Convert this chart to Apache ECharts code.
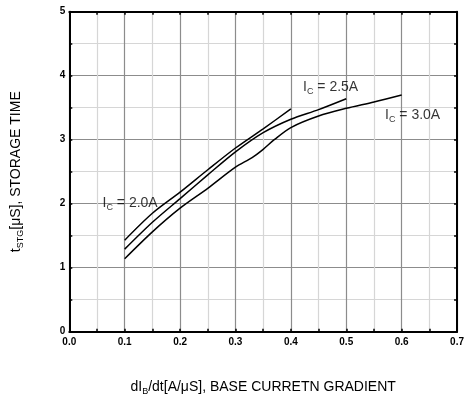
<!DOCTYPE html>
<html>
<head>
<meta charset="utf-8">
<script src="https://cdn.jsdelivr.net/npm/echarts@6/dist/echarts.min.js"></script>
<style>html,body{margin:0;padding:0;background:#fff;}#c{width:467px;height:401px;}</style>
</head>
<body>
<div id="c"></div>
<script>
var ic20X = [0.1, 0.15, 0.2, 0.25, 0.3, 0.35, 0.4];
var ic20Y = [1.43, 1.85, 2.18, 2.53, 2.87, 3.17, 3.48];
var ic25X = [0.1, 0.15, 0.2, 0.25, 0.3, 0.35, 0.4, 0.45, 0.5];
var ic25Y = [1.29, 1.71, 2.08, 2.45, 2.81, 3.11, 3.32, 3.47, 3.64];
var ic30X = [0.1, 0.15, 0.2, 0.25, 0.3, 0.33, 0.35, 0.37, 0.4, 0.45, 0.5, 0.55, 0.6];
var ic30Y = [1.14, 1.56, 1.93, 2.24, 2.57, 2.72, 2.85, 3.0, 3.19, 3.37, 3.49, 3.59, 3.70];
var xTicks = ['0.0','0.1','0.2','0.3','0.4','0.5','0.6','0.7'];
var yTicks = ['0','1','2','3','4','5'];
var labelNames = ['2.0A', '2.5A', '3.0A'];
var labelX = [0.06, 0.422, 0.570];
var labelY = [2.01, 3.82, 3.39];

function pairs(xs, ys){ return xs.map(function(v,i){return [v, ys[i]];}); }

var FONT = 'Liberation Sans, Arial, sans-serif';
var richLbl = {
  a:{fontSize:14, fontFamily:FONT, color:'#000'},
  b:{fontSize:9, fontFamily:FONT, color:'#000', verticalAlign:'bottom', padding:[0,0,-2,0]}
};

function mkSeries(xs, ys){
  return {
    type:'line', data:pairs(xs, ys), smooth:0.3, symbol:'none',
    lineStyle:{color:'#000', width:1.5}, silent:true
  };
}

var chart = echarts.init(document.getElementById('c'), null, {renderer:'canvas'});
var tickStyle = {show:true, inside:true, length:3, lineStyle:{color:'#000', width:1.5}};
var minorStyle = {show:true, splitNumber:2, length:3, lineStyle:{color:'#000', width:1.5}};
var subRich = {s:{fontSize:9, fontFamily:FONT, color:'#000', verticalAlign:'bottom', padding:[0,0,-2,0]}};
chart.setOption({
  animation:false,
  backgroundColor:'#fff',
  grid:{left:69.3, right:5.3, top:11.7, bottom:69.3, show:false},
  xAxis:[{
    type:'value', min:0, max:0.7, interval:0.1, position:'bottom',
    name:'dI{s|B}/dt[A/μS], BASE CURRETN GRADIENT', nameLocation:'middle', nameGap:48,
    nameTextStyle:{fontSize:14, fontFamily:FONT, color:'#000', rich:subRich},
    axisLine:{show:true, onZero:false, lineStyle:{color:'#000', width:2}},
    axisTick:tickStyle, minorTick:minorStyle,
    splitLine:{show:true, lineStyle:{color:'#8c8c8c', width:1.2}},
    minorSplitLine:{show:true, lineStyle:{color:'#d6d6d6', width:1.2}},
    axisLabel:{margin:6, fontSize:10, fontWeight:'bold', fontFamily:FONT, color:'#000',
      formatter:function(v){ return xTicks[Math.round(v*10)]; }}
  },{
    type:'value', min:0, max:0.7, interval:0.1, position:'top',
    axisLine:{show:true, onZero:false, lineStyle:{color:'#000', width:2}},
    axisTick:tickStyle, minorTick:minorStyle,
    splitLine:{show:false}, axisLabel:{show:false}
  }],
  yAxis:[{
    type:'value', min:0, max:5, interval:1, position:'left',
    name:'t{s|STG}[μS], STORAGE TIME', nameLocation:'middle', nameGap:46,
    nameTextStyle:{fontSize:14, fontFamily:FONT, color:'#000', rich:subRich},
    axisLine:{show:true, onZero:false, lineStyle:{color:'#000', width:2}},
    axisTick:tickStyle, minorTick:minorStyle,
    splitLine:{show:true, lineStyle:{color:'#8c8c8c', width:1.2}},
    minorSplitLine:{show:true, lineStyle:{color:'#d6d6d6', width:1.2}},
    axisLabel:{margin:4, fontSize:10, fontWeight:'bold', fontFamily:FONT, color:'#000',
      padding:[3,0,0,0],
      formatter:function(v){ return yTicks[Math.round(v)]; }}
  },{
    type:'value', min:0, max:5, interval:1, position:'right',
    axisLine:{show:true, onZero:false, lineStyle:{color:'#000', width:2}},
    axisTick:tickStyle, minorTick:minorStyle,
    splitLine:{show:false}, axisLabel:{show:false}
  }],
  series:[
    mkSeries(ic20X, ic20Y),
    mkSeries(ic25X, ic25Y),
    mkSeries(ic30X, ic30Y),
    {
      type:'scatter', symbolSize:0, silent:true,
      data:labelNames.map(function(n,i){ return [labelX[i], labelY[i], n]; }),
      label:{show:true, position:'right', distance:0,
        formatter:function(p){ return '{a|I}{b|C}{a| = ' + p.value[2] + '}'; },
        rich:richLbl}
    }
  ]
});
</script>
</body>
</html>
